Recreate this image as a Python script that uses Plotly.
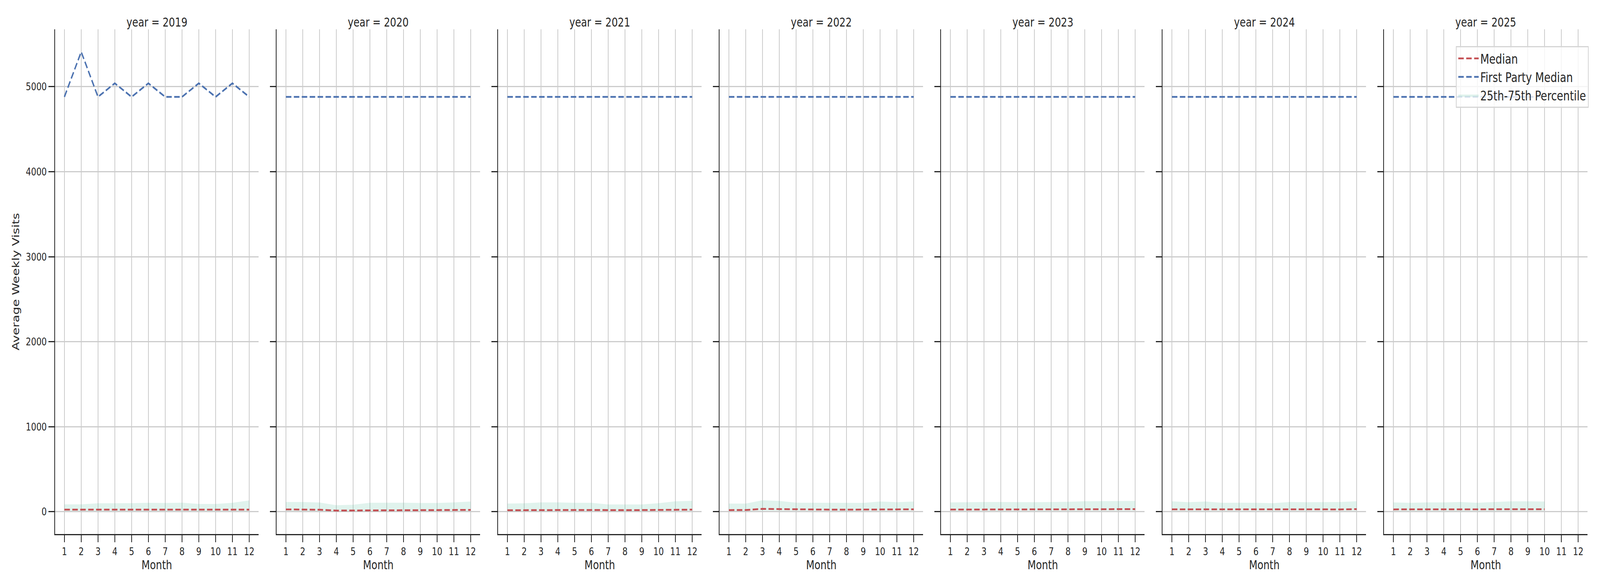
import plotly.graph_objects as go
from plotly.subplots import make_subplots

years = [2019, 2020, 2021, 2022, 2023, 2024, 2025]
months_full = [1, 2, 3, 4, 5, 6, 7, 8, 9, 10, 11, 12]
months_2025 = [1, 2, 3, 4, 5, 6, 7, 8, 9, 10]

first_party_2019 = [4880, 5410, 4880, 5040, 4880, 5040, 4880, 4880, 5040, 4880, 5040, 4880]
first_party_2020 = [4880, 4880, 4880, 4880, 4880, 4880, 4880, 4880, 4880, 4880, 4880, 4880]
first_party_2021 = [4880, 4880, 4880, 4880, 4880, 4880, 4880, 4880, 4880, 4880, 4880, 4880]
first_party_2022 = [4880, 4880, 4880, 4880, 4880, 4880, 4880, 4880, 4880, 4880, 4880, 4880]
first_party_2023 = [4880, 4880, 4880, 4880, 4880, 4880, 4880, 4880, 4880, 4880, 4880, 4880]
first_party_2024 = [4880, 4880, 4880, 4880, 4880, 4880, 4880, 4880, 4880, 4880, 4880, 4880]
first_party_2025 = [4880, 4880, 4880, 4880, 4880, 4880, 4880, 4880, 4880, 4880]

median_2019 = [25, 25, 25, 25, 25, 25, 26, 28, 24, 24, 25, 25]
median_2020 = [28, 28, 24, 14, 15, 20, 21, 23, 23, 23, 22, 22]
median_2021 = [18, 20, 21, 21, 21, 21, 18, 19, 20, 21, 23, 25]
median_2022 = [20, 21, 34, 31, 26, 25, 25, 25, 26, 29, 28, 29]
median_2023 = [26, 26, 26, 26, 26, 26, 26, 26, 26, 29, 31, 31]
median_2024 = [29, 29, 29, 26, 25, 25, 25, 28, 26, 26, 28, 31]
median_2025 = [28, 28, 28, 28, 29, 28, 30, 31, 31, 30]

p75_2019 = [87, 87, 100, 101, 101, 106, 103, 107, 92, 92, 106, 133]
p75_2020 = [115, 115, 109, 77, 83, 106, 107, 107, 103, 103, 110, 121]
p75_2021 = [97, 100, 110, 110, 106, 106, 86, 87, 86, 101, 123, 129]
p75_2022 = [97, 97, 136, 127, 107, 106, 103, 103, 104, 120, 113, 121]
p75_2023 = [110, 113, 115, 115, 113, 113, 115, 117, 124, 126, 127, 127]
p75_2024 = [123, 113, 120, 106, 107, 106, 101, 115, 112, 112, 115, 124]
p75_2025 = [110, 106, 110, 110, 115, 106, 115, 123, 123, 120]

p25_2019 = [9, 9, 9, 9, 9, 9, 9, 10, 8, 8, 9, 9]
p25_2020 = [10, 10, 8, 5, 5, 7, 8, 9, 9, 9, 8, 8]
p25_2021 = [7, 8, 8, 8, 8, 8, 7, 7, 8, 8, 9, 10]
p25_2022 = [8, 8, 12, 11, 10, 9, 9, 9, 10, 11, 10, 11]
p25_2023 = [10, 10, 10, 10, 10, 10, 10, 10, 10, 11, 12, 12]
p25_2024 = [11, 11, 11, 10, 9, 9, 9, 10, 10, 10, 10, 11]
p25_2025 = [10, 10, 10, 10, 11, 10, 11, 11, 11, 11]

month_ticks = [1, 2, 3, 4, 5, 6, 7, 8, 9, 10, 11, 12]
y_ticks = [0, 1000, 2000, 3000, 4000, 5000]

series = {
    2019: (months_full, first_party_2019, median_2019, p25_2019, p75_2019),
    2020: (months_full, first_party_2020, median_2020, p25_2020, p75_2020),
    2021: (months_full, first_party_2021, median_2021, p25_2021, p75_2021),
    2022: (months_full, first_party_2022, median_2022, p25_2022, p75_2022),
    2023: (months_full, first_party_2023, median_2023, p25_2023, p75_2023),
    2024: (months_full, first_party_2024, median_2024, p25_2024, p75_2024),
    2025: (months_2025, first_party_2025, median_2025, p25_2025, p75_2025),
}

W, H = 5250, 1500
TEXT = "#262626"
FONT = "DejaVu Sans"
RED = "#C44E52"
BLUE = "#4C72B0"
BAND = "rgba(102,194,165,0.2)"
DASH = "18px,8px"

fig = make_subplots(rows=1, cols=7, shared_yaxes=True)

for i, yr in enumerate(years):
    x, fp, med, lo, hi = series[yr]
    col = i + 1
    first = (i == 0)
    fig.add_trace(go.Scatter(x=x, y=lo, mode="lines", line=dict(width=0, color=BAND),
                             showlegend=False, hoverinfo="skip"), row=1, col=col)
    fig.add_trace(go.Scatter(x=x, y=hi, mode="lines", line=dict(width=0, color=BAND),
                             fill="tonexty", fillcolor=BAND, name="25th-75th Percentile",
                             legendgroup="band", showlegend=first, legendrank=3), row=1, col=col)
    fig.add_trace(go.Scatter(x=x, y=med, mode="lines", line=dict(color=RED, width=4.5, dash=DASH),
                             name="Median", legendgroup="med", showlegend=first, legendrank=1),
                  row=1, col=col)
    fig.add_trace(go.Scatter(x=x, y=fp, mode="lines", line=dict(color=BLUE, width=4.5, dash=DASH),
                             name="First Party Median", legendgroup="fp", showlegend=first,
                             legendrank=2), row=1, col=col)

x_left0 = 181
step = 726.8
pw = 667
y_top = 75
y_bot = 1367
ydom = [1 - y_bot / H, 1 - y_top / H]

annotations = []
for i, yr in enumerate(years):
    x0 = (x_left0 + i * step) / W
    x1 = (x_left0 + i * step + pw) / W
    xa = "xaxis" if i == 0 else f"xaxis{i+1}"
    ya = "yaxis" if i == 0 else f"yaxis{i+1}"
    fig.layout[xa].update(
        domain=[x0, x1], range=[0.45, 12.55], tickmode="array", tickvals=month_ticks,
        ticktext=[str(m) for m in month_ticks],
        showgrid=True, gridcolor="#cccccc", gridwidth=3, zeroline=False,
        showline=True, linecolor=TEXT, linewidth=3.3, mirror=False,
        ticks="outside", ticklen=18, tickwidth=3.3, tickcolor=TEXT,
        tickfont=dict(family=FONT, size=27, color=TEXT),
        title=dict(text="Month", font=dict(family=FONT, size=32, color=TEXT), standoff=8),
        automargin=False, fixedrange=True,
    )
    fig.layout[ya].update(
        domain=ydom, range=[-262, 5675], tickmode="array", tickvals=y_ticks,
        ticktext=[str(v) for v in y_ticks],
        showgrid=True, gridcolor="#cccccc", gridwidth=3, zeroline=False,
        showline=True, linecolor=TEXT, linewidth=3.3, mirror=False,
        ticks="outside", ticklen=19, tickwidth=3.3, tickcolor=TEXT,
        showticklabels=(i == 0),
        tickfont=dict(family=FONT, size=27, color=TEXT),
        automargin=False, fixedrange=True,
    )
    if i == 0:
        fig.layout[ya].title = dict(text="Average Weekly Visits",
                                    font=dict(family=FONT, size=32, color=TEXT), standoff=12)
    annotations.append(dict(
        text=f"year = {yr}", x=(x0 + x1) / 2, y=1 - 57 / H, xref="paper", yref="paper",
        xanchor="center", yanchor="middle", showarrow=False,
        font=dict(family=FONT, size=32, color=TEXT)))

fig.update_layout(
    width=W, height=H,
    margin=dict(l=0, r=0, t=0, b=0),
    paper_bgcolor="white", plot_bgcolor="white",
    annotations=annotations,
    font=dict(family=FONT, color=TEXT),
    legend=dict(
        x=5213 / W, y=1 - 118 / H, xanchor="right", yanchor="top",
        bgcolor="rgba(255,255,255,0.8)", bordercolor="#d5d5d5", borderwidth=3,
        font=dict(family=FONT, size=34, color=TEXT),
        itemwidth=67, traceorder="normal",
    ),
    showlegend=True,
)

# The browser viewport may be narrower than 5250 px; map the 5250x1500 figure
# onto the full viewport so the page photo has the reference's proportions.
fit_js = """
(function(){
  var gd = document.getElementById('{plot_id}');
  var W = 5250, H = 1500;
  var vw = window.innerWidth || document.documentElement.clientWidth || W;
  var vh = window.innerHeight || document.documentElement.clientHeight || H;
  var sx = vw / W, sy = vh / H;
  if (!(sx > 0)) { sx = 1; }
  if (!(sy > 0)) { sy = 1; }
  var html = document.documentElement, body = document.body;
  html.style.margin = '0'; html.style.padding = '0';
  html.style.overflow = 'hidden'; html.style.height = vh + 'px';
  body.style.margin = '0'; body.style.padding = '0';
  body.style.overflow = 'hidden'; body.style.height = vh + 'px';
  body.style.background = 'white';
  var wrap = gd.parentElement;
  wrap.style.width = vw + 'px';
  wrap.style.height = vh + 'px';
  wrap.style.overflow = 'hidden';
  gd.style.transformOrigin = '0 0';
  gd.style.transform = 'scale(' + sx + ',' + sy + ')';
})();
"""

fig.write_html("out.html", post_script=fit_js, config={"displayModeBar": False})
